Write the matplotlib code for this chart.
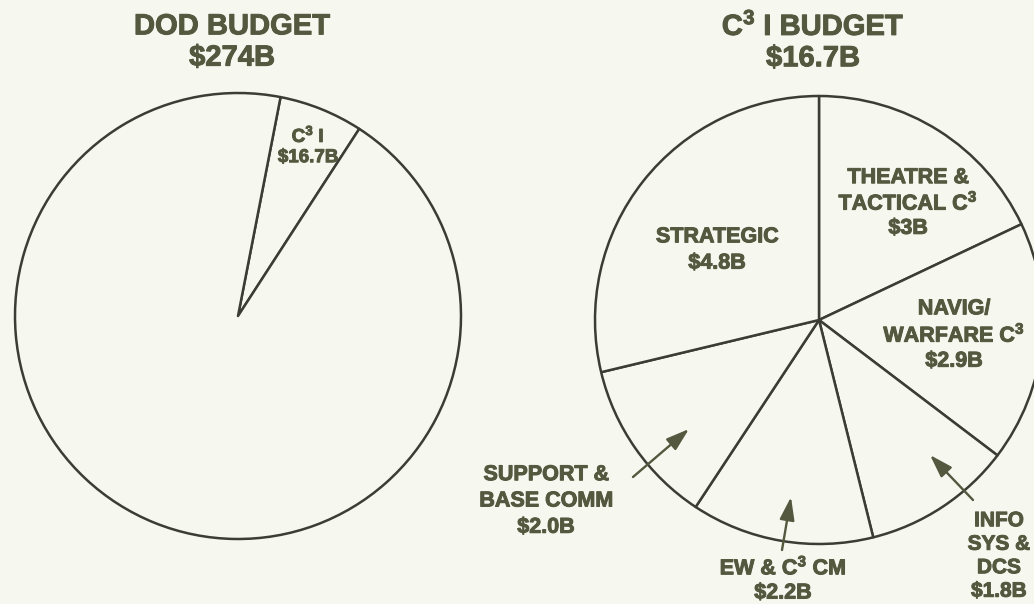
import matplotlib.pyplot as plt
import matplotlib.patheffects as pe

# values (billions of dollars)
dod_total = 274
c3i_total = 16.7

c3i_parts = ['THEATRE & TACTICAL C3', 'NAVIG/WARFARE C3', 'INFO SYS & DCS',
             'EW & C3 CM', 'SUPPORT & BASE COMM', 'STRATEGIC']
c3i_values = [3.0, 2.9, 1.8, 2.2, 2.0, 4.8]

W, H = 1034, 604
bg = '#f6f7ee'
line_col = '#3b3d35'
txt_col = '#53583f'
font = 'Liberation Sans'

plt.rcParams['mathtext.fontset'] = 'custom'
plt.rcParams['mathtext.rm'] = 'Liberation Sans:bold'
plt.rcParams['mathtext.bf'] = 'Liberation Sans:bold'
plt.rcParams['mathtext.default'] = 'rm'

C3 = r'C$^3$'

fig = plt.figure(figsize=(W / 100, H / 100), dpi=100, facecolor=bg)
ax = fig.add_axes([0, 0, 1, 1])
ax.set_facecolor(bg)

wp = dict(facecolor=bg, edgecolor=line_col, linewidth=1.8, joinstyle='round')

# left pie: C3I share of the whole DOD budget
ax.pie([c3i_total, dod_total - c3i_total], startangle=79, counterclock=False,
       center=(238, H - 316), radius=223, wedgeprops=wp)

# right pie: C3I budget split
ax.pie(c3i_values, startangle=90, counterclock=False,
       center=(819, H - 320), radius=224, wedgeprops=wp)

ax.set_xlim(0, W)
ax.set_ylim(0, H)
ax.set_aspect('equal')
ax.axis('off')

heavy = [pe.withStroke(linewidth=0.7, foreground=txt_col)]


def label(x, y, s, size=15.5, ls=1.33):
    ax.text(x, H - y, s, ha='center', va='center', fontsize=size,
            fontweight='bold', color=txt_col, family=font,
            linespacing=ls, multialignment='center', path_effects=heavy)


# titles
label(232, 42, f'DOD BUDGET\n${dod_total}B', size=21, ls=1.15)
label(813, 42, C3 + f' I BUDGET\n${c3i_total}B', size=21, ls=1.15)

# slice labels
label(308, 146, C3 + f' I\n${c3i_total}B', size=13.5, ls=1.25)
label(717, 250, f'STRATEGIC\n${c3i_values[5]}B')
label(908, 203, 'THEATRE &\nTACTICAL ' + C3 + f'\n${c3i_values[0]:g}B', ls=1.2)
label(954, 335, 'NAVIG/\nWARFARE ' + C3 + f'\n${c3i_values[1]}B', ls=1.25)
label(546, 501, f'SUPPORT &\nBASE COMM\n${c3i_values[4]}B')
label(783, 580, 'EW & ' + C3 + f' CM\n${c3i_values[3]}B', ls=1.2)
label(999, 556, f'INFO\nSYS &\nDCS\n${c3i_values[2]}B', size=15, ls=1.3)

# pointer arrows for the small slices
arrows = [((633, 477), (689, 429)), ((782, 550), (791, 497)), ((973, 500), (930, 455))]
for (x0, y0), (x1, y1) in arrows:
    ax.annotate('', xy=(x1, H - y1), xytext=(x0, H - y0),
                arrowprops=dict(arrowstyle='-|>,head_length=1.4,head_width=0.45',
                                color=txt_col, lw=1.7, shrinkA=0, shrinkB=0))

fig.savefig('out.png', dpi=100, facecolor=bg)
